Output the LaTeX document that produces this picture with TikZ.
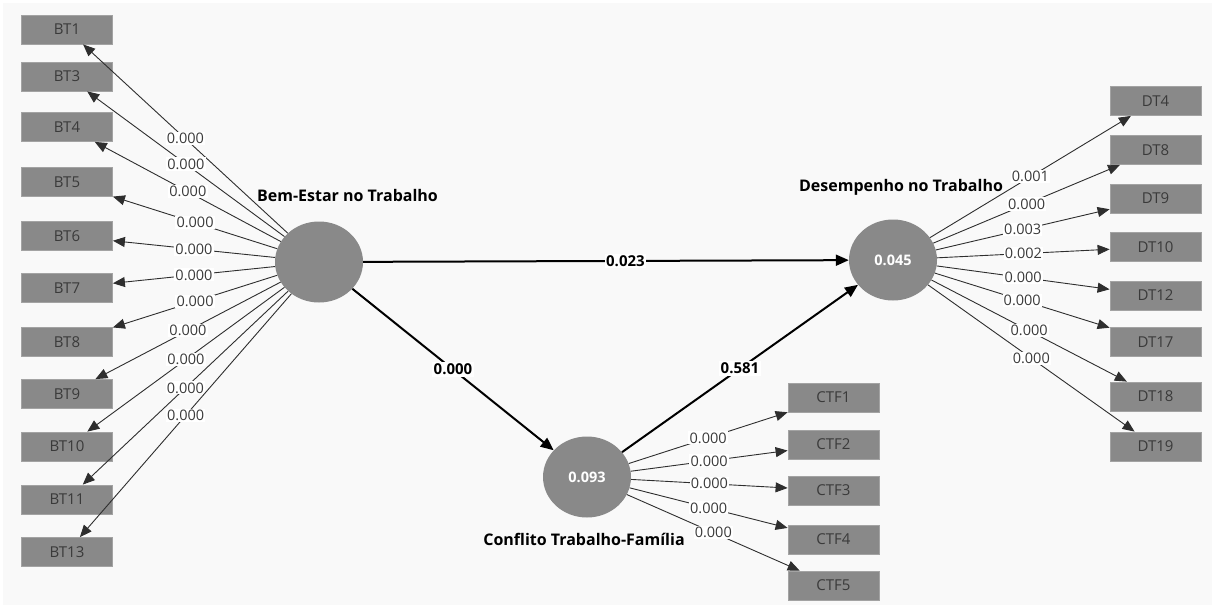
\documentclass[tikz,border=0pt]{standalone}
\usepackage{fontspec}
\setmainfont{Open Sans}
\usetikzlibrary{shapes.geometric,arrows.meta}
\definecolor{panel}{HTML}{F9F9F9}
\definecolor{boxfill}{HTML}{898989}
\definecolor{boxline}{HTML}{A3A3A3}
\definecolor{txt}{HTML}{3A3A3A}
\definecolor{ln}{HTML}{2E2E2E}
\tikzset{
  ind/.style={rectangle, fill=boxfill, draw=boxline, line width=0.8pt, minimum width=91pt, minimum height=29pt, inner sep=0pt, text=txt, font=\fontsize{15}{15}\selectfont},
  lv/.style={ellipse, fill=boxfill, draw=none, minimum width=88pt, minimum height=81pt, inner sep=0pt, text=white, font=\bfseries\fontsize{14.5}{14.5}\selectfont},
  lvname/.style={text=black, font=\bfseries\fontsize{16}{16}\selectfont, inner sep=0pt},
  load/.style={draw=ln, line width=0.9pt, -{Triangle[length=12pt,width=10pt]}},
  path/.style={draw=black, line width=2pt, -{Triangle[length=13pt,width=11pt]}},
  lbl/.style={fill=white, inner sep=1.2pt, text=txt, font=\fontsize{14.5}{14.5}\selectfont},
  plbl/.style={fill=white, inner sep=1.5pt, text=black, font=\bfseries\fontsize{15}{15}\selectfont},
}
\begin{document}
\begin{tikzpicture}[x=1pt,y=-1pt]
\useasboundingbox (0,0) rectangle (1212,611);
\fill[white] (0,0) rectangle (1212,611);
\fill[panel] (3,3) rectangle (1212,605);

% latent variables
\node[lv] (BE) at (319,262) {};
\node[lv] (DT) at (893,260) {0.045};
\node[lv] (CTF) at (587,477) {0.093};
\node[lvname] (BEn) at (347.5,195) {Bem-Estar no Trabalho};
\node[lvname] (DTn) at (901,187) {Desempenho no Trabalho};
\node[lvname] (CTFn) at (584,539) {Conflito Trabalho-Família};

% BT indicators
\node[ind] (BT1) at (67,29.5) {BT1};
\node[ind] (BT3) at (67,76.5) {BT3};
\node[ind] (BT4) at (67,127) {BT4};
\node[ind] (BT5) at (67,182) {BT5};
\node[ind] (BT6) at (67,236) {BT6};
\node[ind] (BT7) at (67,288) {BT7};
\node[ind] (BT8) at (67,342) {BT8};
\node[ind] (BT9) at (67,394) {BT9};
\node[ind] (BT10) at (67,446.5) {BT10};
\node[ind] (BT11) at (67,499.5) {BT11};
\node[ind] (BT13) at (67,552) {BT13};

% DT indicators
\node[ind] (DT4) at (1155.5,101) {DT4};
\node[ind] (DT8) at (1155.5,150) {DT8};
\node[ind] (DT9) at (1155.5,198.5) {DT9};
\node[ind] (DT10) at (1155.5,247) {DT10};
\node[ind] (DT12) at (1155.5,295.5) {DT12};
\node[ind] (DT17) at (1155.5,342) {DT17};
\node[ind] (DT18) at (1155.5,396.5) {DT18};
\node[ind] (DT19) at (1155.5,446.5) {DT19};

% CTF indicators
\node[ind] (CTF1) at (833.5,397.5) {CTF1};
\node[ind] (CTF2) at (833.5,444.5) {CTF2};
\node[ind] (CTF3) at (833.5,490.5) {CTF3};
\node[ind] (CTF4) at (833.5,539.5) {CTF4};
\node[ind] (CTF5) at (833.5,585.5) {CTF5};

% loadings BT
\foreach \t in {BT1,BT3,BT4,BT5,BT6,BT7,BT8,BT9,BT10,BT11,BT13}
  \draw[load] (BE) -- node[lbl, midway] {0.000} (\t);

% loadings DT
\draw[load] (DT) -- node[lbl, midway] {0.001} (DT4);
\draw[load] (DT) -- node[lbl, midway] {0.000} (DT8);
\draw[load] (DT) -- node[lbl, midway] {0.003} (DT9);
\draw[load] (DT) -- node[lbl, midway] {0.002} (DT10);
\draw[load] (DT) -- node[lbl, midway] {0.000} (DT12);
\draw[load] (DT) -- node[lbl, midway] {0.000} (DT17);
\draw[load] (DT) -- node[lbl, midway] {0.000} (DT18);
\draw[load] (DT) -- node[lbl, midway] {0.000} (DT19);

% loadings CTF
\foreach \t in {CTF1,CTF2,CTF3,CTF4,CTF5}
  \draw[load] (CTF) -- node[lbl, midway] {0.000} (\t);

% structural paths
\draw[path] (BE) -- node[plbl, pos=0.54] {0.023} (DT);
\draw[path] (BE) -- node[plbl, midway] {0.000} (CTF);
\draw[path] (CTF) -- node[plbl, midway] {0.581} (DT);
\end{tikzpicture}
\end{document}
